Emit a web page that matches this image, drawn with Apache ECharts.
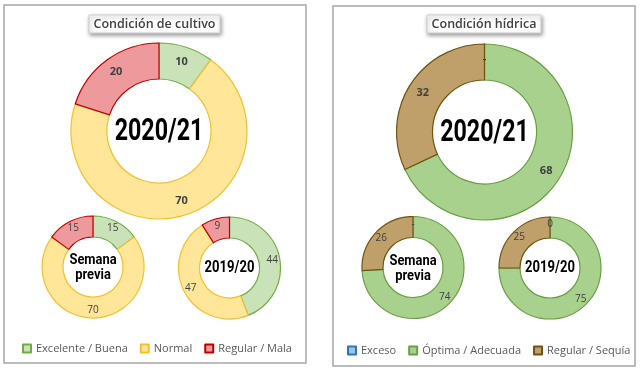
<!DOCTYPE html>
<html><head><meta charset="utf-8">
<script src="https://cdn.jsdelivr.net/npm/echarts@6/dist/echarts.min.js"></script>
<style>html,body{margin:0;padding:0;background:#fff}#c{width:640px;height:370px}</style>
</head><body><div id="c"></div>
<script>
// ---- data ----
const cultivoNames = ['Excelente / Buena', 'Normal', 'Regular / Mala'];
const cultivo2021 = [10, 70, 20];
const cultivoPrev = [15, 70, 15];
const cultivo1920 = [44, 47, 9];
const hidricaNames = ['Exceso', 'Óptima / Adecuada', 'Regular / Sequía'];
const hidrica2021 = [0, 68, 32];
const hidricaPrev = [0, 74, 26];
const hidrica1920 = [0, 75, 25];
const panelTitles = ['Condición de cultivo', 'Condición hídrica'];
const centerLabels = ['2020/21', 'Semana\nprevia', '2019/20'];

// ---- styles ----
const cultivoStyles = [
  {color: '#C9E2B8', borderColor: '#70AD47'},
  {color: '#FFE699', borderColor: '#F2C12E'},
  {color: '#EE9A9C', borderColor: '#C00000'}
];
const hidricaStyles = [
  {color: '#9DC3E6', borderColor: '#2E75B6'},
  {color: '#A9D18E', borderColor: '#6A9E45'},
  {color: '#BFA06A', borderColor: '#6E5410'}
];

function items(names, vals, styles) {
  return names.map((n, i) => ({name: n, value: vals[i], itemStyle: Object.assign({borderWidth: 1.2}, styles[i])}));
}
function pie(center, big, names, vals, styles, zeroText) {
  return {
    type: 'pie', center: center, radius: big ? [52, 88] : [30, 51],
    startAngle: 90, clockwise: true, avoidLabelOverlap: false, animation: false,
    legendHoverLink: false, silent: true,
    label: {show: true, position: 'inside', color: '#404040',
      fontFamily: 'Open Sans, sans-serif', fontSize: big ? 11 : 10, fontWeight: big ? 'bold' : 'normal',
      formatter: p => p.value === 0 ? zeroText : String(p.value)},
    labelLine: {show: false},
    emphasis: {disabled: true},
    data: items(names, vals, styles)
  };
}

const L = {big: [159, 131], prev: [93, 267], old: [229.5, 268]};
const R = {big: [484.5, 132], prev: [413, 267.5], old: [550, 268]};

function centerText(c, txt, size, sx, dy) {
  return {type: 'text', x: c[0], y: c[1] + dy, z: 100, scaleX: sx,
    style: {text: txt, fill: '#000', font: 'bold ' + size + 'px Roboto, sans-serif',
      align: 'center', verticalAlign: 'middle', lineHeight: 15}};
}
function titleBox(cx, w, txt) {
  return [
    {type: 'rect', shape: {x: cx - w / 2, y: 15, width: w, height: 18}, z: 50,
      style: {fill: '#fff', stroke: '#d0d0d0', lineWidth: 1, shadowBlur: 4, shadowOffsetX: 1, shadowOffsetY: 2, shadowColor: 'rgba(0,0,0,0.4)'}},
    {type: 'text', x: cx, y: 24.5, z: 51,
      style: {text: txt, fill: '#404040', font: '600 12.5px "Open Sans", sans-serif', align: 'center', verticalAlign: 'middle'}}
  ];
}

const legendText = {color: '#595959', fontSize: 11, fontFamily: 'Open Sans, sans-serif'};
const chart = echarts.init(document.getElementById('c'), null, {renderer: 'canvas'});
chart.setOption({
  animation: false,
  legend: [
    {data: cultivoNames, left: 17, top: 338, width: 400, icon: 'rect', itemWidth: 8, itemHeight: 8, itemGap: 12, selectedMode: false,
      textStyle: legendText},
    {data: hidricaNames, left: 342, top: 340, width: 400, icon: 'rect', itemWidth: 8, itemHeight: 8, itemGap: 12, selectedMode: false,
      textStyle: legendText}
  ],
  graphic: [
    {type: 'rect', shape: {x: 4, y: 5, width: 302, height: 358}, z: -1, style: {fill: '#fff', stroke: '#a6a6a6', lineWidth: 1.5}},
    {type: 'rect', shape: {x: 333, y: 6, width: 302, height: 360}, z: -1, style: {fill: '#fff', stroke: '#a6a6a6', lineWidth: 1.5}},
    ...titleBox(154.5, 131, panelTitles[0]),
    ...titleBox(484, 114, panelTitles[1]),
    centerText(L.big, centerLabels[0], 31, 0.75, 1),
    centerText(L.prev, centerLabels[1], 15, 0.86, 1),
    centerText(L.old, centerLabels[2], 17, 0.77, 0),
    centerText(R.big, centerLabels[0], 31, 0.75, 1),
    centerText(R.prev, centerLabels[1], 15, 0.86, 1),
    centerText(R.old, centerLabels[2], 17, 0.77, 0)
  ],
  series: [
    pie(L.big, true, cultivoNames, cultivo2021, cultivoStyles, '-'),
    pie(L.prev, false, cultivoNames, cultivoPrev, cultivoStyles, '-'),
    pie(L.old, false, cultivoNames, cultivo1920, cultivoStyles, '0'),
    pie(R.big, true, hidricaNames, hidrica2021, hidricaStyles, '-'),
    pie(R.prev, false, hidricaNames, hidricaPrev, hidricaStyles, '-'),
    pie(R.old, false, hidricaNames, hidrica1920, hidricaStyles, '0')
  ]
});
</script></body></html>
